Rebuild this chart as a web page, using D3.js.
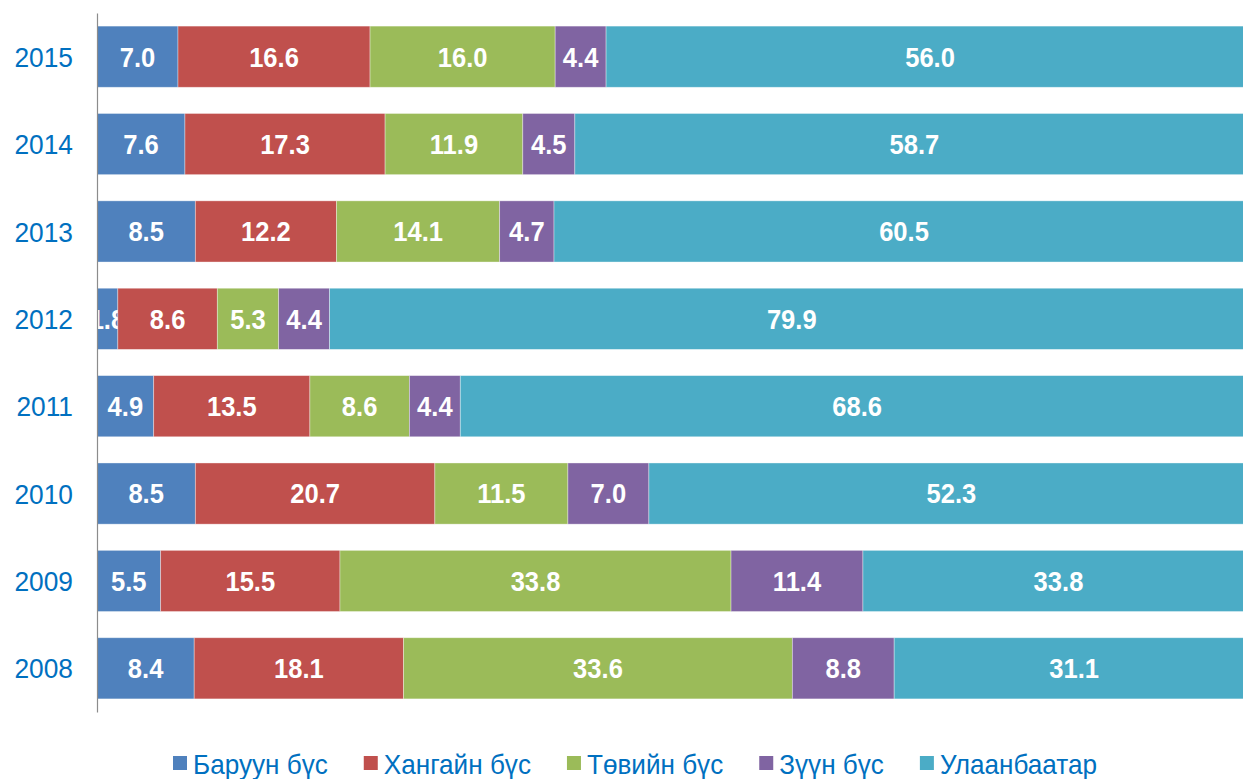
<!DOCTYPE html>
<html>
<head>
<meta charset="utf-8">
<script src="https://cdn.jsdelivr.net/npm/d3@7"></script>
<style>
  html, body { margin: 0; padding: 0; background: #fff; }
  svg { display: block; }
</style>
</head>
<body>
<svg id="chart" width="1243" height="779"></svg>
<script>
// Years, top to bottom
const years = ["2015", "2014", "2013", "2012", "2011", "2010", "2009", "2008"];

// Regional shares (%) per year, in the same order as years
const baruun      = [7.0, 7.6, 8.5, 1.8, 4.9, 8.5, 5.5, 8.4];
const khangai     = [16.6, 17.3, 12.2, 8.6, 13.5, 20.7, 15.5, 18.1];
const tuv         = [16.0, 11.9, 14.1, 5.3, 8.6, 11.5, 33.8, 33.6];
const zuun        = [4.4, 4.5, 4.7, 4.4, 4.4, 7.0, 11.4, 8.8];
const ulaanbaatar = [56.0, 58.7, 60.5, 79.9, 68.6, 52.3, 33.8, 31.1];

const seriesNames  = ["Баруун бүс", "Хангайн бүс", "Төвийн бүс", "Зүүн бүс", "Улаанбаатар"];
const seriesValues = [baruun, khangai, tuv, zuun, ulaanbaatar];
const seriesColors = ["#4F81BD", "#C0504D", "#9BBB59", "#8064A2", "#4BACC6"];

const svg = d3.select("#chart");
const font = "'Liberation Sans', Arial, sans-serif";
const textBlue = "#0070C0";
const squeeze = 0.93; // narrow text rendering

const x = d3.scaleLinear().domain([0, 100]).range([97, 1254]);
const y = d3.scaleBand().domain(years).range([13, 712]).paddingInner(0.3).paddingOuter(0.15);

// Build stacked rows
const rows = years.map((yr, i) => {
  const r = { year: yr };
  seriesNames.forEach((n, k) => { r[n] = seriesValues[k][i]; });
  return r;
});
const stacked = d3.stack().keys(seriesNames)(rows);

const layers = svg.append("g").selectAll("g")
  .data(stacked)
  .join("g")
  .attr("fill", (d, i) => seriesColors[i]);

layers.selectAll("rect")
  .data(d => d)
  .join("rect")
  .attr("x", d => x(d[0]))
  .attr("y", d => y(d.data.year))
  .attr("width", d => x(d[1]) - x(d[0]))
  .attr("height", y.bandwidth())
  .attr("stroke", "#ffffff")
  .attr("stroke-opacity", 0.45)
  .attr("stroke-width", 0.8);

// Value labels
const valueSize = 27.5;
layers.selectAll("text")
  .data(d => d.map(p => ({ p, key: d.key })))
  .join("text")
  .attr("transform", d => {
    const cx = (x(d.p[0]) + x(d.p[1])) / 2;
    const cy = y(d.p.data.year) + y.bandwidth() / 2 + valueSize * 0.36;
    return `translate(${cx},${cy}) scale(${squeeze},1)`;
  })
  .attr("text-anchor", "middle")
  .attr("fill", "#ffffff")
  .attr("font-family", font)
  .attr("font-weight", "bold")
  .attr("font-size", valueSize)
  .text(d => d.p.data[d.key].toFixed(1));

// Category axis
const axis = svg.append("g").attr("transform", `translate(${x(0)},0)`)
  .call(d3.axisLeft(y).tickSize(0).tickPadding(0).tickFormat(""));
axis.select(".domain").attr("stroke", "#8c8c8c").attr("stroke-width", 1.2);
axis.selectAll(".tick text").remove();
axis.selectAll(".tick").append("text")
  .attr("transform", `translate(-24,${28 * 0.36}) scale(0.94,1)`)
  .attr("text-anchor", "end")
  .attr("fill", textBlue)
  .attr("font-family", font)
  .attr("font-size", 28)
  .text(d => d);

// Legend
const legend = svg.append("g");
let lx = 173;
seriesNames.forEach((n, i) => {
  legend.append("rect")
    .attr("x", lx).attr("y", 756)
    .attr("width", 14).attr("height", 14)
    .attr("fill", seriesColors[i]);
  const t = legend.append("text")
    .attr("transform", `translate(${lx + 20},774) scale(0.95,1)`)
    .attr("fill", textBlue)
    .attr("font-family", font)
    .attr("font-size", 27.5)
    .text(n);
  lx += 20 + t.node().getComputedTextLength() * 0.95 + 36;
});
</script>
</body>
</html>
